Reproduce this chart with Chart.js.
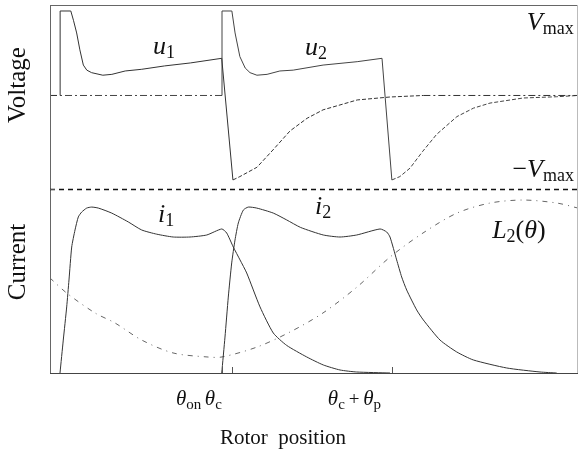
<!DOCTYPE html>
<html>
<head>
<meta charset="utf-8">
<script src="https://cdn.jsdelivr.net/npm/chart.js@4.4.0/dist/chart.umd.min.js"></script>
<style>
  html, body { margin: 0; padding: 0; background: #fff; }
  canvas { display: block; }
</style>
</head>
<body>
<canvas id="Waves" width="580" height="455"></canvas>
<script>
// rotor position in degrees, voltage in units of Vmax, current / inductance normalised
const u1 = [[0, 0], [1.9, 0], [1.9, 1], [3.9, 1], [4.4, 0.89], [5.0, 0.74], [5.6, 0.54], [6.25, 0.36],
    [6.9, 0.30], [7.8, 0.27], [9.9, 0.24], [11.6, 0.25], [14.1, 0.29], [17.2, 0.31], [21.5, 0.35],
    [26.3, 0.385], [32.2, 0.44], [34.3, -1.0], [35.6, -0.96], [38.8, -0.85], [41.8, -0.645],
    [45.0, -0.42], [48.2, -0.27], [51.2, -0.17], [57.6, -0.053], [63.75, -0.018], [70, 0], [99, 0]];

const u2 = [[0, 0], [32.25, 0], [32.25, 1], [34.1, 1], [34.7, 0.74], [35.6, 0.46], [36.6, 0.325],
    [37.5, 0.27], [38.8, 0.24], [40.7, 0.25], [43.1, 0.29], [45.6, 0.30], [51.2, 0.36], [57.6, 0.40],
    [62.25, 0.44], [64.1, -1.0], [65.6, -0.96], [67.5, -0.86], [69.9, -0.66], [72.5, -0.46],
    [76.3, -0.25], [79.4, -0.15], [82.5, -0.09], [88.7, -0.03], [95, -0.015], [99, 0]];

const i1 = [[1.875, 0], [2.49, 0.197], [3.13, 0.395], [3.56, 0.556], [4.07, 0.753], [4.69, 0.855],
    [5.31, 0.933], [5.94, 0.962], [6.88, 0.986], [7.82, 0.992], [9.06, 0.986], [11.57, 0.956],
    [14.68, 0.903], [17.19, 0.855], [20.0, 0.83], [23.1, 0.813], [26.25, 0.813], [29.38, 0.825],
    [32.2, 0.861], [33.13, 0.837], [34.37, 0.753], [35.63, 0.676], [36.88, 0.598], [39.38, 0.395],
    [41.87, 0.239], [44.38, 0.165], [48.13, 0.096], [51.25, 0.048], [54.38, 0.018], [57.5, 0.006],
    [63.75, 0]];

const i2 = [[32.2, 0], [32.81, 0.215], [33.43, 0.454], [34.07, 0.658], [34.69, 0.795], [35.31, 0.897],
    [36.25, 0.974], [37.18, 0.992], [38.76, 0.986], [41.87, 0.956], [44.38, 0.915], [47.0, 0.87],
    [51.25, 0.825], [54.38, 0.813], [57.5, 0.825], [61.88, 0.861], [63.13, 0.843], [63.75, 0.813],
    [65.0, 0.676], [65.94, 0.574], [66.88, 0.496], [68.75, 0.377], [70.0, 0.317], [73.13, 0.197],
    [76.25, 0.126], [79.37, 0.078], [85.63, 0.030], [91.88, 0.006], [95.0, 0]];

const L2 = [[0, 0.568], [3.13, 0.478], [8.44, 0.359], [12.19, 0.299], [17.19, 0.197], [23.06, 0.12],
    [29.44, 0.096], [32.25, 0.096], [38.81, 0.155], [45.0, 0.245], [51.19, 0.359], [57.56, 0.514],
    [63.75, 0.693], [69.94, 0.837], [76.31, 0.956], [82.5, 1.016], [88.69, 1.034], [95.06, 1.016],
    [99, 0.986]];

const thetaOn = 32.25;
const thetaC = 34.1;
const thetaP = 30;
const tickValues = [thetaOn, thetaC, thetaC + thetaP];

const SERIF = '"Liberation Serif", "Times New Roman", serif';
const IT = 'italic 26px ' + SERIF;
const RM = '26px ' + SERIF;
const SUB = '18px ' + SERIF;
const TIT = 'italic 21px ' + SERIF;
const TSUB = '15px ' + SERIF;

const toPts = arr => arr.map(([x, y]) => ({x, y}));

// zero stretches dash-dot, recovering tails dashed
const voltSegment = {
    borderDash: c => {
        const a = c.p0.parsed, b = c.p1.parsed;
        if (a.y === 0 && b.y === 0) return [7, 3, 2, 3];
        if (a.y < 0 && b.y >= a.y) return [4, 2];
        return undefined;
    }
};

function runs(ctx, x, y, parts) {
    let cx = x;
    for (const [t, font, dy] of parts) {
        ctx.font = font;
        ctx.fillText(t, cx, y + (dy || 0));
        cx += ctx.measureText(t).width;
    }
}

function sideTitle(ctx, text, cy) {
    ctx.save();
    ctx.translate(25, cy);
    ctx.rotate(-Math.PI / 2);
    ctx.fillText(text, 0, 0);
    ctx.restore();
}

const decor = {
    id: 'decor',
    afterDatasetsDraw(chart) {
        const {ctx, chartArea: a, scales: {x, yV, yI}} = chart;
        ctx.save();

        // frame
        ctx.lineWidth = 1;
        ctx.strokeStyle = '#666';
        ctx.beginPath();
        ctx.moveTo(a.left + 0.5, a.top + 0.5);
        ctx.lineTo(a.right - 0.5, a.top + 0.5);
        ctx.moveTo(a.left + 0.5, a.top);
        ctx.lineTo(a.left + 0.5, a.bottom);
        ctx.stroke();
        ctx.strokeStyle = '#444';
        ctx.beginPath();
        ctx.moveTo(a.left, a.bottom + 0.5);
        ctx.lineTo(a.right, a.bottom + 0.5);
        ctx.stroke();
        ctx.strokeStyle = '#bbb';
        ctx.beginPath();
        ctx.moveTo(a.right - 0.5, a.top);
        ctx.lineTo(a.right - 0.5, a.bottom);
        ctx.stroke();

        // panel separator
        ctx.strokeStyle = '#111';
        ctx.lineWidth = 1.4;
        ctx.setLineDash([5, 4]);
        ctx.beginPath();
        ctx.moveTo(a.left, yV.bottom + 0.5);
        ctx.lineTo(a.right, yV.bottom + 0.5);
        ctx.stroke();
        ctx.setLineDash([]);

        // angle ticks
        ctx.lineWidth = 1;
        ctx.strokeStyle = '#555';
        ctx.beginPath();
        for (const v of tickValues) {
            const px = Math.round(x.getPixelForValue(v)) + 0.5;
            ctx.moveTo(px, a.bottom);
            ctx.lineTo(px, a.bottom - 6);
        }
        ctx.moveTo(a.left, yV.bottom + 0.5);
        ctx.lineTo(a.left + 5, yV.bottom + 0.5);
        ctx.stroke();

        ctx.fillStyle = '#111';
        ctx.textBaseline = 'alphabetic';
        ctx.textAlign = 'left';

        // curve labels
        runs(ctx, x.getPixelForValue(19.3), yV.getPixelForValue(0.49), [['u', IT], ['1', SUB, 4]]);
        runs(ctx, x.getPixelForValue(47.8), yV.getPixelForValue(0.48), [['u', IT], ['2', SUB, 4]]);
        runs(ctx, x.getPixelForValue(89.4), yV.getPixelForValue(0.775), [['V', IT], ['max', SUB, 4]]);
        runs(ctx, x.getPixelForValue(86.7), yV.getPixelForValue(-0.965), [['\u2212', RM], ['V', IT], ['max', SUB, 4]]);
        runs(ctx, x.getPixelForValue(20.25), yI.getPixelForValue(0.903), [['i', IT], ['1', SUB, 4]]);
        runs(ctx, x.getPixelForValue(49.7), yI.getPixelForValue(0.95), [['i', IT], ['2', SUB, 4]]);
        runs(ctx, x.getPixelForValue(82.9), yI.getPixelForValue(0.807),
            [['L', IT], ['2', SUB, 4], ['(', RM], ['\u03B8', IT], [')', RM]]);

        // angle labels
        const base = a.bottom + 32;
        runs(ctx, x.getPixelForValue(thetaOn) - 46, base, [['\u03B8', TIT], ['on', TSUB, 4]]);
        runs(ctx, x.getPixelForValue(thetaC) - 27, base, [['\u03B8', TIT], ['c', TSUB, 4]]);
        runs(ctx, x.getPixelForValue(thetaC + thetaP) - 64, base,
            [['\u03B8', TIT], ['c', TSUB, 4], ['\u2009+\u2009', '19px ' + SERIF], ['\u03B8', TIT], ['p', TSUB, 4]]);

        // axis titles
        ctx.font = '21px ' + SERIF;
        ctx.textAlign = 'center';
        ctx.fillText('Rotor  position', (a.left + a.right) / 2 - 31, a.bottom + 71);
        ctx.font = '25px ' + SERIF;
        sideTitle(ctx, 'Voltage', (yV.top + yV.bottom) / 2 - 12);
        sideTitle(ctx, 'Current', (yI.top + yI.bottom) / 2 - 19);

        ctx.restore();
    }
};

new Chart(document.getElementById('Waves'), {
    type: 'scatter',
    data: {
        datasets: [
            {label: 'u1', data: toPts(u1), yAxisID: 'yV', borderColor: '#333', segment: voltSegment},
            {label: 'u2', data: toPts(u2), yAxisID: 'yV', borderColor: '#444', segment: voltSegment},
            {label: 'i1', data: toPts(i1), yAxisID: 'yI', borderColor: '#333', tension: 0.2},
            {label: 'i2', data: toPts(i2), yAxisID: 'yI', borderColor: '#333', tension: 0.2},
            {label: 'L2', data: toPts(L2), yAxisID: 'yI', borderColor: '#666', borderDash: [5, 5, 1, 5], tension: 0.3}
        ]
    },
    options: {
        responsive: false,
        animation: false,
        showLine: true,
        elements: {
            point: {radius: 0, hoverRadius: 0},
            line: {borderWidth: 1, tension: 0}
        },
        layout: {padding: {left: 50, right: 2, top: 5, bottom: 82}},
        plugins: {legend: {display: false}, tooltip: {enabled: false}},
        scales: {
            x: {type: 'linear', min: 0, max: 99, display: false},
            // left-side stacks are laid out last-defined first, so current goes first to sit below
            yI: {type: 'linear', min: 0, max: 1.1, position: 'left', stack: 'panels', stackWeight: 1, display: false},
            yV: {type: 'linear', min: -1.107, max: 1.071, position: 'left', stack: 'panels', stackWeight: 1, display: false}
        }
    },
    plugins: [decor]
});
</script>
</body>
</html>
